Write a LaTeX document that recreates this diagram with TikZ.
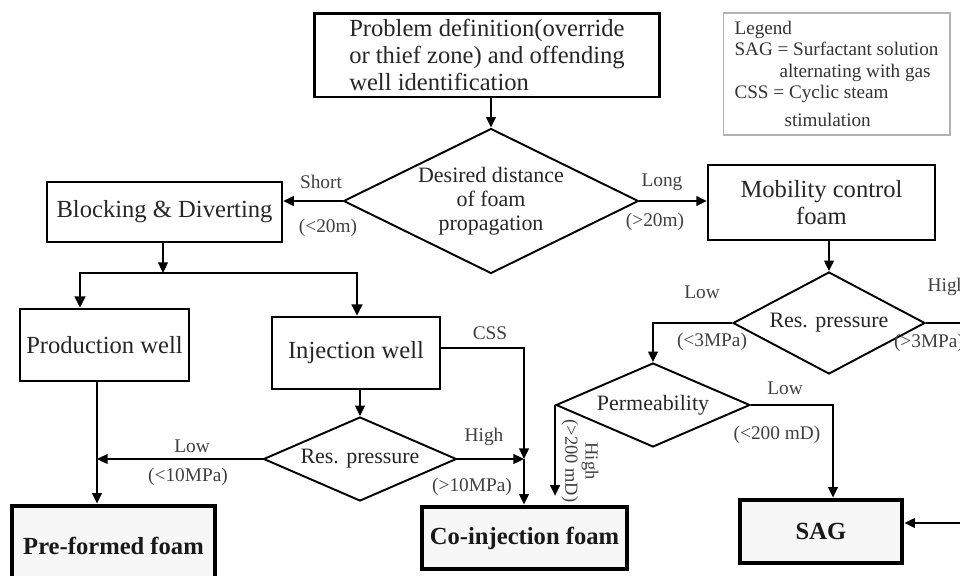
\documentclass[tikz,border=0pt]{standalone}
\usepackage{fontspec}
\setmainfont{Liberation Serif}
\usetikzlibrary{arrows.meta,shapes.geometric,calc}

\begin{document}
\begin{tikzpicture}[x=0.02cm, y=-0.02cm,
  procbox/.style={draw, line width=1.4pt, align=center, inner sep=2pt,
                  font=\fontsize{14}{15.5}\selectfont, text=black!85},
  endbox/.style={draw, line width=2.8pt, fill=gray!6, align=center,
                 font=\fontsize{14}{16}\selectfont\bfseries, text=black!90},
  decision/.style={draw, diamond, aspect=2, line width=1.1pt, inner sep=0pt,
                   align=center, font=\fontsize{12.5}{13.6}\selectfont, text=black!85},
  legendbox/.style={draw=gray!60, line width=0.6pt, align=left,
                    font=\fontsize{10.9}{12.2}\selectfont, text=black!80},
  lbl/.style={font=\fontsize{11}{12}\selectfont, text=black!75, inner sep=0pt},
  arr/.style={-{Triangle[length=6pt, width=5.5pt]}, line width=1.1pt},
  arrb/.style={-{Triangle[length=6.5pt, width=6pt]}, line width=1.7pt},
  link/.style={line width=1.1pt}
]
  \useasboundingbox (0,0) rectangle (960,575);
  \clip (0,0) rectangle (960,575);

  \node[procbox, line width=1.7pt, minimum width=6.9cm, minimum height=1.68cm, align=left]
    (prob) at (487,55) {Problem definition(override\\ or thief zone) and offending\\ well identification};
  \node[decision, minimum width=5.9cm, minimum height=2.9cm] (dist) at (491,201)
    {Desired distance\\of foam\\propagation};
  \node[procbox, minimum width=4.7cm, minimum height=1.2cm] (block) at (164.5,212) {Blocking \& Diverting};
  \node[procbox, minimum width=4.54cm, minimum height=1.5cm] (mob) at (821.5,202.5) {Mobility control\\foam};
  \node[procbox, minimum width=3.38cm, minimum height=1.44cm] (prod) at (104.5,345) {Production well};
  \node[procbox, minimum width=3.36cm, minimum height=1.44cm] (inj) at (356,353) {Injection well};
  \node[decision, minimum width=3.86cm, minimum height=1.68cm] (presL) at (360,459) {Res. pressure};
  \node[decision, minimum width=3.84cm, minimum height=2.04cm] (presR) at (829,323) {Res. pressure};
  \node[decision, minimum width=3.88cm, minimum height=1.68cm] (perm) at (653,405) {Permeability};
  \node[endbox, minimum width=4.06cm, minimum height=1.6cm] (pre) at (113.5,546) {Pre-formed foam};
  \node[endbox, minimum width=4.1cm, minimum height=1.24cm] (coinj) at (524.5,538) {Co-injection foam};
  \node[endbox, minimum width=3.24cm, minimum height=1.26cm] (sag) at (821,531.5) {SAG};
  \node[legendbox, minimum width=4.54cm, minimum height=2.44cm] (legend) at (836.5,74)
    {Legend\\SAG = Surfactant solution\\\hspace*{0.9cm}alternating with gas\\CSS = Cyclic steam\\[4pt]\hspace*{1cm}stimulation};

  \coordinate (split)    at (163,273);
  \coordinate (splitL)   at (80,273);
  \coordinate (splitR)   at (357,273);
  \coordinate (lowjoin)  at (97,459);
  \coordinate (hijoin)   at (524,459);
  \coordinate (cssturn)  at (524,348);
  \coordinate (lowturn)  at (653,323);
  \coordinate (permturn) at (833,405);
  \coordinate (highout)  at (975,323);
  \coordinate (sagin)    at (975,523);

  \draw[arr] (prob.south -| dist.north) -- (dist.north);
  \draw[arr] (dist.west) -- (dist.west -| block.east);
  \draw[arr] (dist.east) -- (dist.east -| mob.west);
  \draw[arr] (block.south -| split) -- (split);
  \draw[arrb] (split) -- (splitL) -- (splitL |- prod.north);
  \draw[arrb] (split) -- (splitR) -- (splitR |- inj.north);
  \draw[arr] (lowjoin |- prod.south) -- (lowjoin |- pre.north);
  \draw[arr] (presL.north |- inj.south) -- (presL.north);
  \draw[arr] (presL.west) -- (lowjoin);
  \draw[arr] (presL.east) -- (hijoin);
  \draw[arr] (cssturn -| inj.east) -- (cssturn) -- (hijoin);
  \draw[arr] (hijoin) -- (hijoin |- coinj.north);

  \draw[arr] (presR.north |- mob.south) -- (presR.north);
  \draw[arr] (presR.west) -- (lowturn) -- (lowturn |- perm.north);
  \draw[link] (presR.east) -- (highout);
  \draw[arr] (perm.east) -- (permturn) -- (permturn |- sag.north);
  \draw[arr, shorten >=5pt] (perm.west) -- (perm.west |- coinj.north);
  \draw[arr] (sagin) -- (sagin -| sag.east);

  \node[lbl] (lshort)  at (321,182) {Short};
  \node[lbl] (lshortv) at (328,228) {(<20m)};
  \node[lbl] (llong)   at (662,182) {Long};
  \node[lbl] (llongv)  at (655,222) {(>20m)};
  \node[lbl] (lplow)   at (192,446) {Low};
  \node[lbl] (lplowv)  at (188,477) {(<10MPa)};
  \node[lbl] (lphigh)  at (484,437) {High};
  \node[lbl] (lphighv) at (472,487) {(>10MPa)};
  \node[lbl] (lcss)    at (490,333) {CSS};
  \node[lbl] (lrlow)   at (702,292) {Low};
  \node[lbl] (lrlowv)  at (712,342) {(<3MPa)};
  \node[lbl] (lrhigh)  at (947,287) {High};
  \node[lbl] (lrhighv) at (929,343) {(>3MPa)};
  \node[lbl] (lklow)   at (785,388) {Low};
  \node[lbl] (lklowv)  at (777,435) {(<200 mD)};
  \node[lbl, rotate=-90, align=center, font=\fontsize{10.5}{11.5}\selectfont] (lkhigh) at (580,461) {High\\(>200 mD)};
\end{tikzpicture}
\end{document}
